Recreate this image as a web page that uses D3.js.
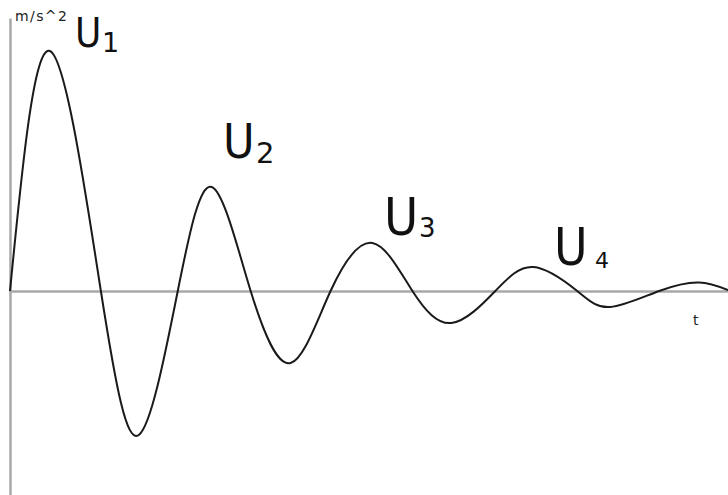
<!DOCTYPE html>
<html lang="en">
<head>
  <meta charset="UTF-8">
  <title>Damped oscillation</title>
  <script src="https://d3js.org/d3.v7.min.js"></script>
  <style>
    html, body {
      margin: 0;
      padding: 0;
      background: #fff;
    }

    .curve {
      stroke: #1a1a1a;
      stroke-width: 2px;
      fill: none;
    }

    .axis path {
      stroke: #a8a8a8;
      stroke-width: 2.5px;
    }

    .unit {
      font-family: "DejaVu Sans", sans-serif;
      font-size: 14px;
      fill: #222;
    }

    .peak {
      font-family: "DejaVu Sans Condensed", "DejaVu Sans", sans-serif;
      fill: #111;
    }

    .sub {
      font-family: "DejaVu Sans", sans-serif;
      fill: #111;
    }
  </style>
</head>
<body>
  <div id="container"></div>

  <script>
    const width = 728;
    const height = 495;

    // time (arbitrary units) and acceleration:
    // start, peaks, zero crossings and troughs
    const tValues = [0, 4.0, 9.1, 12.9, 16.8, 20.2, 24.1, 28.1, 32.1, 36.3, 40.3, 44.2, 48.6, 52.4, 56.8, 60.1, 65.0, 69.0, 71.9];
    const accel   = [0, 2.40, 0, -1.44, 0, 1.04, 0, -0.72, 0, 0.48, 0, -0.32, 0, 0.24, 0, -0.16, 0, 0.085, 0.01];

    // peak labels U1..U4
    const peakNames = ['U', 'U', 'U', 'U'];
    const peakSubs = ['1', '2', '3', '4'];
    const yUnit = 'm/s^2';
    const xUnit = 't';

    // label layout (pixels) for the hand-placed annotations
    const peakLayout = [
      {x: 75,  y: 47,  size: 40, sx: 102, sy: 52,  ss: 27},
      {x: 223, y: 158, size: 48, sx: 256, sy: 163, ss: 29},
      {x: 384, y: 235, size: 52, sx: 419, sy: 237, ss: 26},
      {x: 554, y: 265, size: 51, sx: 595, sy: 268, ss: 22}
    ];

    const margin = {left: 10, right: 0, top: 18, bottom: 0};

    const svg = d3.select('#container').append('svg')
      .attr('width', width).attr('height', height);

    const xScale = d3.scaleLinear()
      .domain([0, 71.9])
      .range([margin.left, width - margin.right]);

    const yScale = d3.scaleLinear()
      .domain([-2.04, 2.73])
      .range([height - margin.bottom, margin.top]);

    // axes without ticks, just the gray lines
    const xAxis = d3.axisBottom(xScale).tickValues([]).tickSizeOuter(0);
    const yAxis = d3.axisLeft(yScale).tickValues([]).tickSizeOuter(0);

    svg.append('g').attr('class', 'axis x-axis')
      .attr('transform', `translate(0,${yScale(0)})`)
      .call(xAxis);

    svg.append('g').attr('class', 'axis y-axis')
      .attr('transform', `translate(${xScale(0)},0)`)
      .call(yAxis);

    const data = tValues.map((t, i) => ({t: t, a: accel[i]}));

    const line = d3.line()
      .x(d => xScale(d.t))
      .y(d => yScale(d.a))
      .curve(d3.curveNatural);

    svg.append('path')
      .datum(data)
      .attr('class', 'curve')
      .attr('d', line);

    // unit labels
    svg.append('text').attr('class', 'unit')
      .attr('x', 15).attr('y', 21)
      .style('letter-spacing', '1.4px')
      .text(yUnit);

    svg.append('text').attr('class', 'unit')
      .attr('x', 693).attr('y', 325)
      .text(xUnit);

    // peak annotations: big U with its subscript in one text
    peakLayout.forEach((p, i) => {
      const label = svg.append('text').attr('class', 'peak');
      label.append('tspan')
        .attr('x', p.x).attr('y', p.y)
        .style('font-size', p.size + 'px')
        .text(peakNames[i]);
      label.append('tspan')
        .attr('class', 'sub')
        .attr('x', p.sx).attr('y', p.sy)
        .style('font-size', p.ss + 'px')
        .text(peakSubs[i]);
    });
  </script>
</body>
</html>
